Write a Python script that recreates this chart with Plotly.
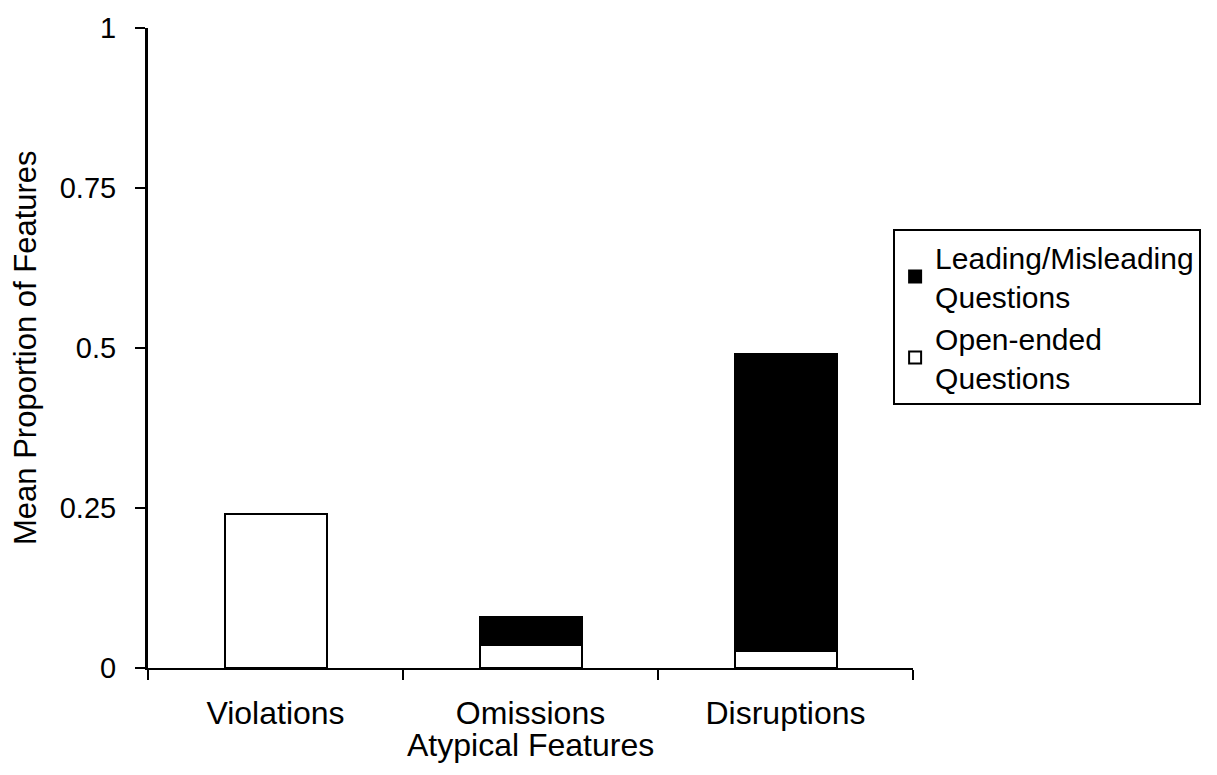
import plotly.graph_objects as go

categories = ["Violations", "Omissions", "Disruptions"]
open_ended = [0.24, 0.036, 0.027]
leading = [0.0, 0.044, 0.463]
y_ticks = [0, 0.25, 0.5, 0.75, 1]
y_tick_labels = ["0", "0.25", "0.5", "0.75", "1"]

FONT = "Arial, Liberation Sans, sans-serif"

fig = go.Figure()
fig.add_trace(go.Bar(
    x=categories, y=open_ended, name="Open-ended<br>Questions",
    marker=dict(color="white", line=dict(color="black", width=2)),
))
fig.add_trace(go.Bar(
    x=categories, y=leading, name="Leading/Misleading<br>Questions",
    marker=dict(color="black", line=dict(color="black", width=2)),
))

fig.update_layout(
    width=1217, height=775,
    barmode="stack", bargap=0.6,
    plot_bgcolor="white", paper_bgcolor="white",
    margin=dict(l=140, r=312, t=20, b=115, autoexpand=False),
    font=dict(family=FONT, size=30, color="black"),
    showlegend=True,
    legend=dict(
        x=0.974, y=0.686, xanchor="left", yanchor="top",
        bordercolor="black", borderwidth=2,
        font=dict(family=FONT, size=30, color="black"),
        itemwidth=30,
    ),
    xaxis=dict(
        type="category", range=[-0.5, 2.5], automargin=False,
        showline=True, linecolor="black", linewidth=2,
        ticks="outside", ticklen=10, tickwidth=2, tickcolor="black",
        tickson="boundaries", showgrid=False, zeroline=False,
        ticklabelstandoff=16,
        tickfont=dict(family=FONT, size=32, color="black"),
    ),
    yaxis=dict(
        range=[0, 1], tickvals=y_ticks, ticktext=y_tick_labels,
        automargin=False,
        showline=True, linecolor="black", linewidth=3,
        ticks="outside", ticklen=10, tickwidth=2, tickcolor="black",
        showgrid=False, zeroline=False, ticklabelstandoff=13,
        tickfont=dict(family=FONT, size=29, color="black"),
    ),
    annotations=[
        dict(text="Atypical Features", xref="paper", yref="paper",
             x=0.5, y=0, xanchor="center", yanchor="middle", yshift=-77,
             showarrow=False, font=dict(family=FONT, size=32, color="black")),
        dict(text="Mean Proportion of Features", xref="paper", yref="paper",
             x=0, y=0.5, xanchor="center", yanchor="middle", xshift=-123,
             textangle=-90, showarrow=False,
             font=dict(family=FONT, size=31, color="black")),
    ],
)

fig.write_html("out.html")
